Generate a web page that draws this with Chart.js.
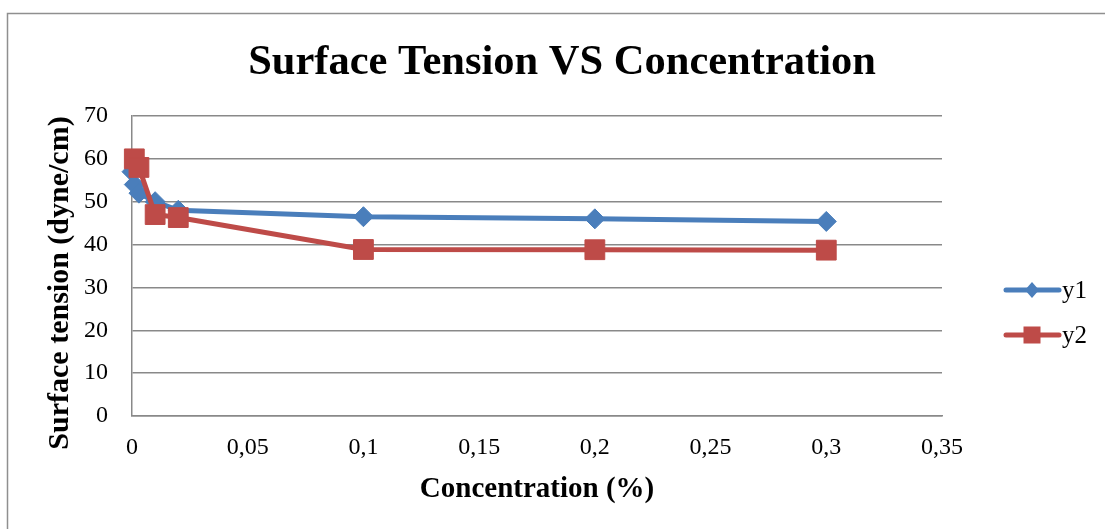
<!DOCTYPE html>
<html>
<head>
<meta charset="utf-8">
<script src="https://cdn.jsdelivr.net/npm/chart.js@4/dist/chart.umd.min.js"></script>
<style>
html,body{margin:0;padding:0;background:#fff;}
#wrap{width:1105px;height:529px;position:relative;}
</style>
</head>
<body>
<div id="wrap"><canvas id="c" width="1105" height="529"></canvas></div>
<script>
const chartTitle = "Surface Tension VS Concentration";
const xTitle = "Concentration (%)";
const yTitle = "Surface tension (dyne/cm)";
const seriesNames = ["y1", "y2"];
const y1X = [0, 0.001, 0.003, 0.01, 0.02, 0.1, 0.2, 0.3];
const y1Y = [57, 54, 52, 50, 48, 46.5, 46, 45.4];
const y2X = [0.001, 0.003, 0.01, 0.02, 0.1, 0.2, 0.3];
const y2Y = [60, 58, 47, 46.3, 38.85, 38.8, 38.7];
const xMin = 0, xMax = 0.35, xStep = 0.05;
const yMin = 0, yMax = 70, yStep = 10;

const BLUE = '#4A7EBB', RED = '#BE4B48', GRID = '#898989';
const SERIF = '"Liberation Serif", "Times New Roman", serif';

function pts(xs, ys){ return xs.map((x,i)=>({x:x, y:ys[i]})); }

const decor = {
  id: 'decor',
  afterDraw(chart){
    const ctx = chart.ctx;
    ctx.save();
    // outer frame
    ctx.strokeStyle = '#8f8f8f';
    ctx.lineWidth = 1.5;
    ctx.strokeRect(7.5, 13.5, 1300, 700);
    // title
    ctx.fillStyle = '#000';
    ctx.textAlign = 'center';
    ctx.textBaseline = 'alphabetic';
    ctx.font = 'bold 42.5px ' + SERIF;
    ctx.fillText(chartTitle, 562, 74);
    // x title
    ctx.font = 'bold 29px ' + SERIF;
    ctx.fillText(xTitle, 537, 497);
    // y title
    ctx.save();
    ctx.translate(60, 283);
    ctx.rotate(-Math.PI/2);
    ctx.textBaseline = 'middle';
    ctx.font = 'bold 30px ' + SERIF;
    ctx.fillText(yTitle, 0, 0);
    ctx.restore();
    // legend
    const ds = chart.data.datasets;
    const rows = [290, 335];
    ds.forEach((d, i) => {
      const y = rows[i];
      ctx.strokeStyle = d.borderColor;
      ctx.lineWidth = 5;
      ctx.lineCap = 'round';
      ctx.beginPath(); ctx.moveTo(1006, y); ctx.lineTo(1059, y); ctx.stroke();
      ctx.fillStyle = d.borderColor;
      const cx = 1032;
      if (d.pointStyle === 'rect') {
        ctx.fillRect(cx - 8.5, y - 8.5, 17, 17);
      } else {
        ctx.beginPath();
        ctx.moveTo(cx, y - 8); ctx.lineTo(cx + 7, y); ctx.lineTo(cx, y + 8); ctx.lineTo(cx - 7, y);
        ctx.closePath(); ctx.fill();
      }
      ctx.fillStyle = '#000';
      ctx.textAlign = 'left';
      ctx.textBaseline = 'middle';
      ctx.font = '25px ' + SERIF;
      ctx.fillText(d.label, 1062, y + 1);
    });
    ctx.restore();
  }
};

new Chart(document.getElementById('c'), {
  type: 'scatter',
  data: {
    datasets: [
      { label: seriesNames[0], data: pts(y1X, y1Y), showLine: true,
        borderColor: BLUE, backgroundColor: BLUE, borderWidth: 5,
        pointStyle: 'rectRot', pointRadius: 10, pointBorderWidth: 1,
        pointBorderColor: BLUE, pointBackgroundColor: BLUE, order: 2, clip: false },
      { label: seriesNames[1], data: pts(y2X, y2Y), showLine: true,
        borderColor: RED, backgroundColor: RED, borderWidth: 5,
        pointStyle: 'rect', pointRadius: 14, pointBorderWidth: 1,
        pointBorderColor: RED, pointBackgroundColor: RED, order: 1, clip: false }
    ]
  },
  options: {
    responsive: false,
    animation: false,
    events: [],
    layout: { padding: { left: 0, top: 116, right: 163, bottom: 0 } },
    plugins: { legend: { display: false }, title: { display: false }, tooltip: { enabled: false } },
    scales: {
      x: {
        type: 'linear', min: xMin, max: xMax,
        ticks: { stepSize: xStep, padding: 17, color: '#000',
          font: { family: SERIF, size: 24 },
          callback: v => String(Math.round(v*100)/100).replace('.', ',') },
        grid: { display: true, color: 'rgba(0,0,0,0)', drawTicks: false },
        border: { display: true, color: GRID, width: 1.5 },
        afterFit: s => { s.height = 113; }
      },
      y: {
        type: 'linear', min: yMin, max: yMax,
        ticks: { stepSize: yStep, padding: 24, color: '#000',
          font: { family: SERIF, size: 24 } },
        grid: { color: GRID, lineWidth: 1.5, drawTicks: false },
        border: { display: true, color: GRID, width: 1.5 },
        afterFit: s => { s.width = 132; }
      }
    }
  },
  plugins: [decor]
});
</script>
</body>
</html>
